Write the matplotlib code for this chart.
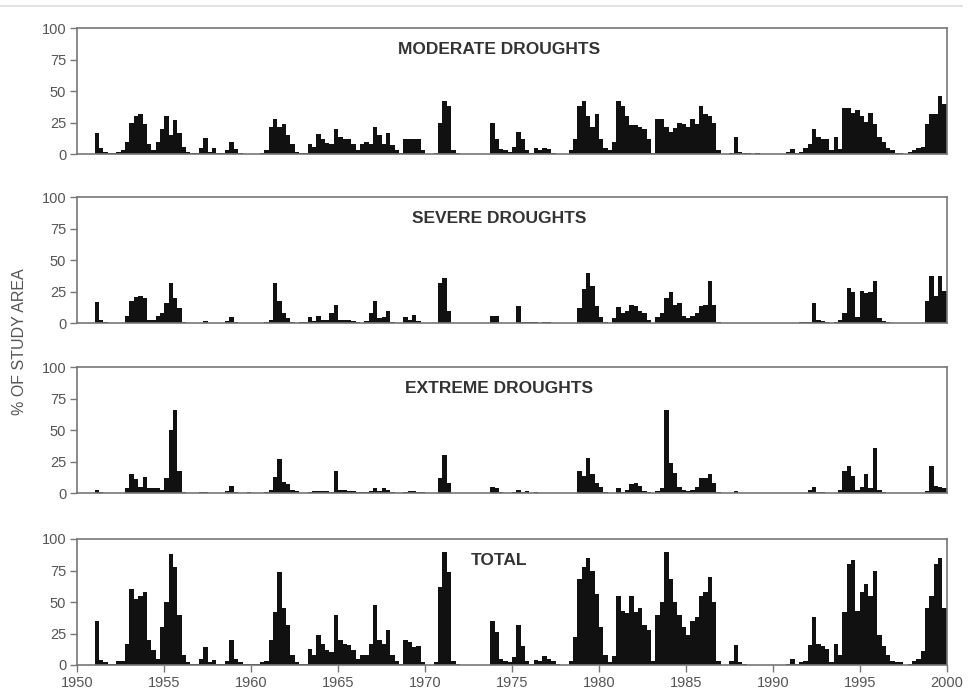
import numpy as np
import matplotlib
matplotlib.use('Agg')
import matplotlib.pyplot as plt
from matplotlib.lines import Line2D

plt.rcParams['font.family'] = ['Liberation Sans', 'DejaVu Sans']

############################################################
# Quarterly values (% of study area), 1950-1999
############################################################

start_year = 1950
n_years = 50

moderate = [
    0,0,0,0,  17,5,2,1,  1,2,3,10,  25,30,32,24,  8,3,10,20,
    30,15,27,17,  6,2,1,1,  5,13,2,5,  1,1,3,10,  4,1,0,0,
    0,0,1,3,  22,28,22,24,  15,8,2,1,  1,8,6,16,  12,9,8,20,
    14,12,12,8,  3,8,10,8,  22,15,8,17,  7,3,1,12,  12,12,12,3,
    0,0,1,25,  42,38,3,1,  0,0,0,0,  0,0,0,25,  12,4,3,2,
    6,18,12,3,  1,5,3,5,  4,1,0,0,  0,3,12,38,  42,30,22,32,
    12,5,3,10,  42,38,30,23,  23,22,20,12,  1,28,28,22,  18,21,25,24,
    22,28,24,38,  32,30,25,3,  0,0,1,14,  2,1,1,0,  1,0,0,0,
    0,0,0,2,  4,1,2,5,  8,20,14,12,  12,3,14,4,  37,37,33,35,
    30,26,33,24,  14,10,5,3,  1,1,0,2,  3,5,6,24,  32,32,46,40,
]

severe = [
    0,0,0,0,  17,3,1,0,  0,0,0,6,  18,21,22,20,  3,3,6,8,
    16,32,20,12,  1,0,0,0,  0,2,0,0,  0,0,2,5,  1,0,0,0,
    0,0,0,1,  3,32,18,8,  4,1,0,1,  1,5,2,6,  3,3,8,15,
    3,3,3,2,  1,0,2,8,  18,4,5,10,  1,0,0,5,  3,7,2,0,
    0,0,0,32,  36,10,0,0,  0,0,0,0,  0,0,0,6,  6,0,0,0,
    0,14,1,1,  1,1,0,1,  1,0,0,0,  0,0,0,12,  27,40,30,14,
    5,1,0,4,  13,8,10,15,  14,10,8,3,  0,5,8,20,  25,15,16,6,
    4,6,8,14,  15,34,15,1,  0,0,0,0,  0,0,0,0,  0,0,0,0,
    0,0,0,0,  0,0,1,1,  1,16,3,2,  1,0,1,3,  8,28,25,5,
    26,24,25,34,  4,2,1,0,  0,0,0,0,  0,0,0,18,  38,22,38,26,
]

extreme = [
    0,0,0,0,  3,1,0,0,  0,0,0,4,  15,11,5,13,  4,4,4,3,
    12,50,66,18,  1,0,0,0,  1,1,0,0,  0,0,2,6,  1,0,0,1,
    0,0,0,1,  3,13,27,9,  7,3,2,0,  0,1,2,2,  2,2,1,18,
    3,3,2,2,  1,1,1,2,  4,2,4,3,  1,0,0,1,  2,2,1,1,
    0,0,0,12,  30,8,0,0,  0,0,0,0,  0,0,0,5,  4,1,0,0,
    1,3,1,2,  0,1,0,0,  0,0,0,0,  0,0,0,18,  14,28,15,8,
    5,1,0,0,  4,1,3,7,  8,6,2,1,  0,2,4,66,  24,16,5,3,
    2,3,5,12,  12,15,8,1,  0,0,0,2,  0,0,0,0,  0,0,0,0,
    0,0,0,0,  0,0,0,0,  3,5,1,1,  0,0,0,3,  18,22,14,3,
    5,15,4,36,  3,1,0,0,  0,0,0,0,  0,0,0,2,  22,6,5,4,
]

total = [
    0,0,0,0,  35,4,2,1,  1,3,3,17,  60,52,55,58,  20,12,5,30,
    50,88,78,40,  8,2,1,1,  5,14,2,4,  1,1,3,20,  5,2,1,1,
    1,1,2,3,  20,42,74,45,  32,8,2,1,  1,13,8,24,  17,12,10,40,
    20,17,16,12,  5,8,8,17,  48,20,17,28,  8,3,1,20,  18,14,15,2,
    0,0,2,62,  90,74,3,1,  0,0,0,0,  0,0,0,35,  26,5,3,2,
    6,32,15,3,  1,4,3,7,  5,3,1,0,  0,3,22,68,  78,85,75,56,
    30,8,2,7,  55,43,41,55,  42,45,32,28,  3,40,50,90,  68,50,40,30,
    24,35,38,55,  58,70,50,3,  0,0,3,16,  2,1,0,0,  0,0,0,0,
    0,0,0,1,  5,1,2,3,  16,38,17,15,  13,2,17,8,  42,80,83,43,
    58,64,55,75,  24,15,8,3,  2,2,0,1,  3,5,11,45,  55,80,85,45,
]

panel_titles = ['MODERATE DROUGHTS', 'SEVERE DROUGHTS', 'EXTREME DROUGHTS', 'TOTAL']
panel_data = [moderate, severe, extreme, total]

t = start_year + np.arange(n_years * 4) * 0.25

#####################################
# Figure
#####################################

fig = plt.figure(figsize=(9.74, 7.0), dpi=100)

left, width = 0.0794, 0.8926
bottoms = [0.7796, 0.538, 0.2953, 0.050]
height = 0.18

grey = '#555555'
spine_grey = '#777777'

# faint rule along the top of the page
fig.add_artist(Line2D([0, 0.988], [0.991, 0.991], transform=fig.transFigure,
                      color='#dddddd', linewidth=1.2))

for i in range(4):
    ax = fig.add_axes([left, bottoms[i], width, height])
    ax.bar(t, panel_data[i], width=0.25, align='edge', color='#111111', linewidth=0)
    ax.set_xlim(1950, 2000)
    ax.set_ylim(0, 100)
    ax.set_yticks([0, 25, 50, 75, 100])
    for s in ax.spines.values():
        s.set_color(spine_grey)
        s.set_linewidth(1.2)
    ax.tick_params(axis='y', direction='out', length=5, width=1, color=spine_grey,
                   labelsize=10.5, labelcolor=grey, pad=3)
    if i == 3:
        ax.set_xticks(np.arange(1950, 2001, 5))
        ax.tick_params(axis='x', direction='out', length=5, width=1, color=spine_grey,
                       labelsize=10.5, labelcolor=grey, pad=3)
    else:
        ax.set_xticks([])
    ax.text(1974.25, 83, panel_titles[i], ha='center', va='center',
            fontsize=12.5, fontweight='bold', color='#333333')

fig.text(0.020, 0.512, '% OF STUDY AREA', rotation=90, ha='center', va='center',
         fontsize=11.5, color=grey)

plt.savefig('out.png', dpi=100)
